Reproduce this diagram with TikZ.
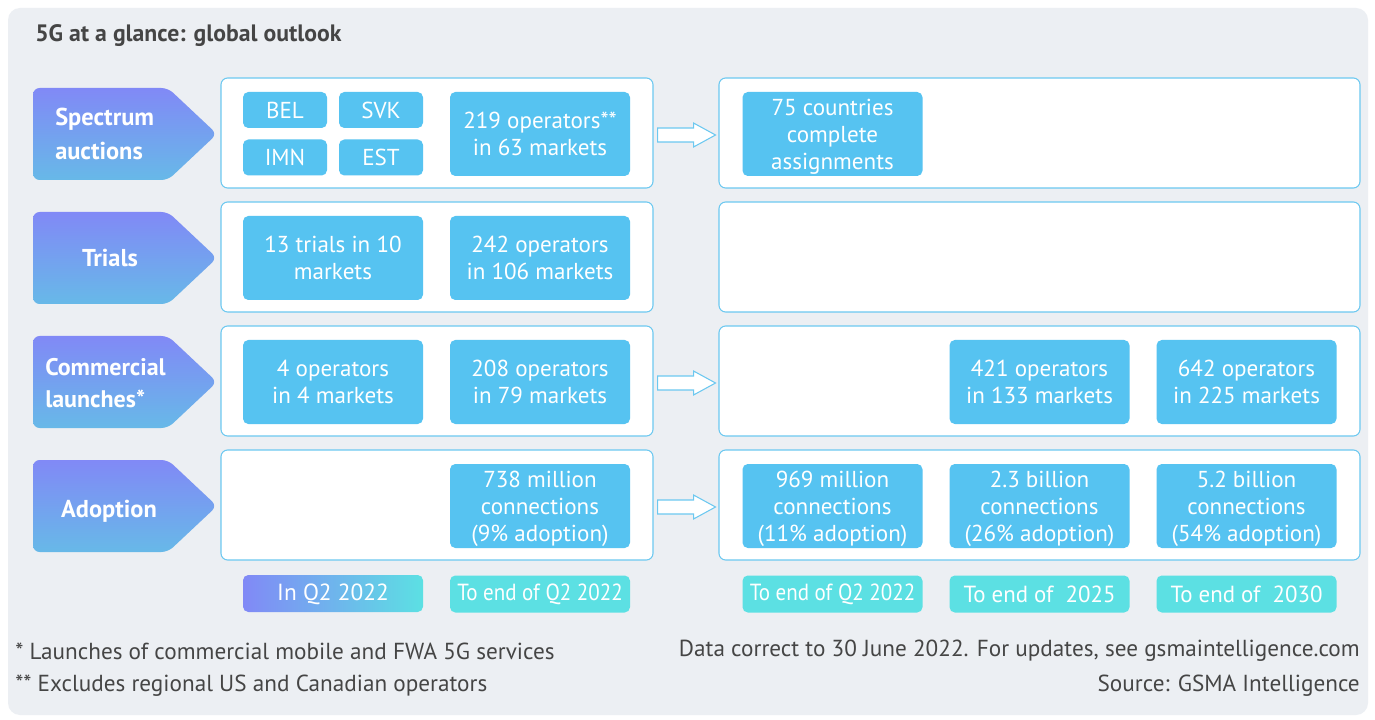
\documentclass[tikz,border=0pt]{standalone}
\usepackage{fontspec}
\setmainfont{PT Sans}
\usetikzlibrary{calc}
\definecolor{bgc}{HTML}{ECEFF3}
\definecolor{pbord}{HTML}{6CC8F0}
\definecolor{boxc}{HTML}{56C3F1}
\definecolor{purp}{HTML}{8189F6}
\definecolor{lblb}{HTML}{67B9E8}
\definecolor{teal}{HTML}{5CE0E3}
\definecolor{txt}{HTML}{454545}
\def\px{0.75pt}
\tikzset{
  panel/.style={draw=pbord, fill=white, rounded corners=5pt, line width=0.8pt,
    minimum height=110*\px, inner sep=0pt},
  lpanel/.style={panel, minimum width=432*\px},
  rpanel/.style={panel, minimum width=641*\px},
  bx/.style={fill=boxc, rounded corners=4pt, text=white, align=center,
    minimum width=180*\px, minimum height=84*\px, inner sep=0pt,
    font=\fontsize{17.3}{20}\selectfont},
  bx3/.style={bx, font=\fontsize{17.3}{20.25}\selectfont, text depth=0pt},
  sbx/.style={bx, minimum width=84*\px, minimum height=36*\px},
  tl/.style={fill=teal, rounded corners=4pt, text=white, align=center,
    minimum width=180*\px, minimum height=37*\px, inner sep=0pt,
    font=\fontsize{17.5}{20}\selectfont},
  lbl/.style={text=white, align=left, inner sep=0pt,
    font=\bfseries\fontsize{18.3}{25.5}\selectfont},
  pent/.style={top color=purp, bottom color=lblb, rounded corners=5pt},
  barrow/.style={fill=white, draw=pbord, line width=0.8pt},
  foot/.style={text=txt, inner sep=0pt, font=\fontsize{17.4}{19}\selectfont}
}
\begin{document}
\begin{tikzpicture}[x=0.75pt,y=-0.75pt]
\useasboundingbox (0,0) rectangle (1375,720);
\fill[white] (0,0) rectangle (1375,720);
\fill[bgc, rounded corners=9pt] (8,8) rectangle (1368,715);
\node[anchor=west, text=txt, inner sep=0pt, font=\bfseries\fontsize{17.8}{20}\selectfont] (title) at (35,36) {5G at a glance: global outlook};

% pentagon labels
\foreach \c/\n in {134/1,258/2,382/3,506/4}{
  \shade[pent] (33,\c-46) -- (168,\c-46) -- (217,\c) -- (168,\c+46) -- (33,\c+46) -- cycle;
}
\node[lbl, anchor=west] (lab1) at (55,134) {Spectrum\\auctions};
\node[lbl] (lab2) at (110,258) {Trials};
\node[lbl, anchor=west, font=\bfseries\fontsize{18}{24}\selectfont] (lab3) at (45,383) {Commercial\\launches*};
\node[lbl] (lab4) at (109,511) {Adoption};

% panels
\foreach \c/\n in {133/1,257/2,381/3,505/4}{
  \node[lpanel] (lp\n) at (437,\c) {};
  \node[rpanel] (rp\n) at (1039.5,\c) {};
}

% arrows
\foreach \n in {1,3,4}{
  \path ($(lp\n.east)+(4*\px,-2*\px)$) coordinate (as\n);
  \draw[barrow] (as\n) ++(0,-7) -- ++(36,0) -- ++(0,-5) -- ++(22,12) -- ++(-22,12) -- ++(0,-5) -- ++(-36,0) -- cycle;
}

% row 1
\node[sbx] (bel) at (285,110) {BEL};
\node[sbx] (svk) at (381,110) {SVK};
\node[sbx] (imn) at (285,157.5) {IMN};
\node[sbx] (est) at (381,157.5) {EST};
\node[bx] (op1) at (540,134) {219 operators**\\in 63 markets};
\node[bx3] (cty) at (832.5,134) {75 countries\\complete\\assignments};

% row 2
\node[bx] (tri) at (333,258) {13 trials in 10\\markets};
\node[bx] (op2) at (540,258) {242 operators\\in 106 markets};

% row 3
\node[bx] (op3a) at (333,382) {4 operators\\in 4 markets};
\node[bx] (op3b) at (540,382) {208 operators\\in 79 markets};
\node[bx] (op3c) at (1039.5,382) {421 operators\\in 133 markets};
\node[bx] (op3d) at (1246.5,382) {642 operators\\in 225 markets};

% row 4
\node[bx3] (ad1) at (540,506) {738 million\\connections\\(9\% adoption)};
\node[bx3] (ad2) at (832.5,506) {969 million\\connections\\(11\% adoption)};
\node[bx3] (ad3) at (1039.5,506) {2.3 billion\\connections\\(26\% adoption)};
\node[bx3] (ad4) at (1246.5,506) {5.2 billion\\connections\\(54\% adoption)};

% time labels
\shade[left color=purp, right color=teal, rounded corners=4pt] (243,575) rectangle (423,612);
\node[text=white, inner sep=0pt, font=\fontsize{17.5}{20}\selectfont] (t1) at (333,594) {In Q2 2022};
\node[tl] (t2) at (540,594) {\scalebox{0.9}[1]{To end of Q2 2022}};
\node[tl] (t3) at (832.5,594) {\scalebox{0.9}[1]{To end of Q2 2022}};
\node[tl] (t4) at (1039.5,594) {\scalebox{0.98}[1]{To end of \ 2025}};
\node[tl] (t5) at (1246.5,594) {\scalebox{0.98}[1]{To end of \ 2030}};

% footnotes
\node[foot, anchor=west] (f1) at (15,651) {* Launches of commercial mobile and FWA 5G services};
\node[foot, anchor=west] (f2) at (15,686) {** Excludes regional US and Canadian operators};
\node[foot, anchor=east] (f3) at (1360,651) {Data correct to 30 June 2022. For updates, see gsmaintelligence.com};
\node[foot, anchor=east] (f4) at (1360,686) {Source: GSMA Intelligence};
\end{tikzpicture}
\end{document}
